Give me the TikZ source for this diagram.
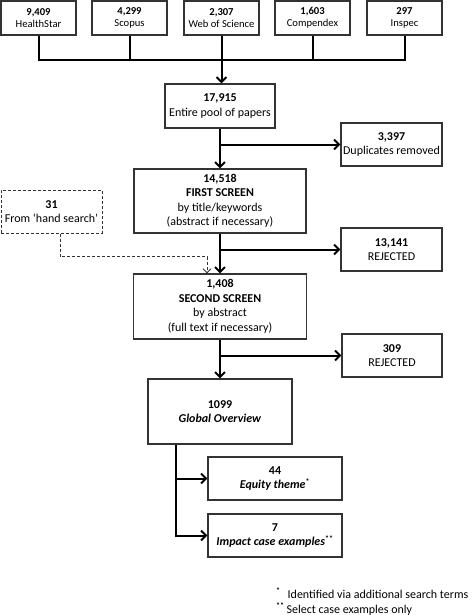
\documentclass[tikz,border=0pt]{standalone}
\usepackage{fontspec}
\setmainfont{Carlito}
\usetikzlibrary{arrows.meta}
\begin{document}
\begin{tikzpicture}[x=1pt,y=-1pt,
  box/.style={draw=black!80, line width=1.1pt, fill=white, align=center, inner sep=0pt,
    font=\fontsize{12}{14.5}\selectfont},
  topbox/.style={box, minimum width=75pt, minimum height=34pt, font=\fontsize{10.6}{12.4}\selectfont},
  sidebox/.style={box, minimum width=101pt, minimum height=43pt},
  line/.style={line width=2pt, black},
  arr/.style={line, -{Straight Barb[length=5pt,width=10pt,line width=2pt]}},
  darr/.style={line width=1pt, dashed, dash pattern=on 3pt off 2pt, black!80, -{Straight Barb[length=4pt,width=8pt,line width=1pt]}}
]
\useasboundingbox (0,0) rectangle (472,615);

% sources
\node[topbox] (hs)   at (38.5,18)  {\textbf{9,409}\\HealthStar};
\node[topbox] (sc)   at (129.5,18) {\textbf{4,299}\\Scopus};
\node[topbox] (wos)  at (221.5,18) {\textbf{2,307}\\Web of Science};
\node[topbox] (cp)   at (312.5,18) {\textbf{1,603}\\Compendex};
\node[topbox] (insp) at (404.5,18) {\textbf{297}\\Inspec};

% main column
\node[box, minimum width=110pt, minimum height=44pt] (pool) at (220,106) {\textbf{17,915}\\Entire pool of papers};
\node[box, minimum width=172pt, minimum height=64pt] (first) at (220,201) {\textbf{14,518}\\\textbf{FIRST SCREEN}\\by title/keywords\\(abstract if necessary)};
\node[box, minimum width=173pt, minimum height=65pt] (second) at (220,306.5) {\textbf{1,408}\\\textbf{SECOND SCREEN}\\by abstract\\(full text if necessary)};
\node[box, minimum width=144pt, minimum height=65pt] (glob) at (220,411.5) {\textbf{1099}\\\textbf{\textit{Global Overview}}};

% side boxes
\node[sidebox] (dup)  at (391.5,144.5) {\textbf{3,397}\\Duplicates removed};
\node[sidebox] (rej1) at (391.5,249.5) {\textbf{13,141}\\REJECTED};
\node[sidebox, minimum width=100pt] (rej2) at (392,355.5) {\textbf{309}\\REJECTED};
\node[sidebox, draw=black!80, line width=1pt, dashed, dash pattern=on 3pt off 2pt] (hand) at (51.5,211.5) {\textbf{31}\\From ‘hand search’};

% outcome boxes
\node[box, minimum width=134pt, minimum height=43pt] (eq)  at (275,478.5) {\textbf{44}\\\textbf{\textit{Equity theme}}\textsuperscript{\textbf{*}}};
\node[box, minimum width=134pt, minimum height=43pt] (imp) at (275,535.5) {\textbf{7}\\\textbf{\textit{Impact case examples}}\textsuperscript{\textbf{**}}};

% footnotes
\node[anchor=west, inner sep=0pt, font=\fontsize{12}{14.5}\selectfont] (fn1) at (276,593) {\textsuperscript{\textbf{*}}\hspace{7pt}Identified via additional search terms};
\node[anchor=west, inner sep=0pt, font=\fontsize{12}{14.5}\selectfont] (fn2) at (276,609) {\textsuperscript{\textbf{**}}\hspace{2pt}Select case examples only};

% connectors: sources to pool
\coordinate (bus) at (221.5,60);
\draw[line] (hs.south) |- (insp.south |- bus) -- (insp.south);
\draw[line] (sc.south) -- (sc.south |- bus);
\draw[line] (cp.south) -- (cp.south |- bus);
\draw[arr] (wos.south) -- (wos.south |- pool.north);

% main flow
\draw[arr] (pool.south) -- (first.north);
\draw[arr] (pool.south |- dup.west) -- (dup.west);
\draw[arr] (first.south) -- (second.north);
\draw[arr] (first.south |- rej1.west) -- (rej1.west);
\draw[arr] (second.south) -- (glob.north);
\draw[arr] (second.south |- rej2.west) -- (rej2.west);

% hand search
\draw[darr] ([xshift=8.5pt]hand.south) -- ++(0,23) -| ([xshift=-13pt]second.north);

% outcomes
\draw[arr] ([xshift=-44pt]glob.south) |- (imp.west);
\draw[arr] ([xshift=-44pt]glob.south |- eq.west) -- (eq.west);
\end{tikzpicture}
\end{document}
